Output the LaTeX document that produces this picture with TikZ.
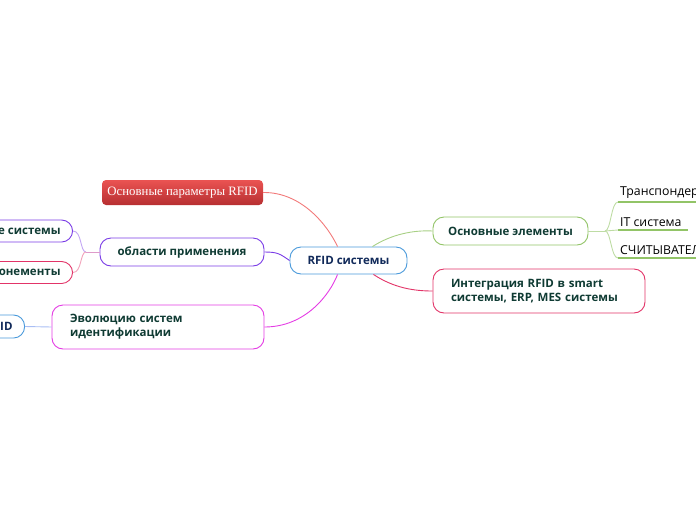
\documentclass[tikz,border=0pt]{standalone}
\usepackage{fontspec}
\setmainfont{Open Sans}
\newfontfamily\paramfont{Liberation Serif}
\usepackage{tikz}
\usetikzlibrary{positioning,calc}
\definecolor{ink}{HTML}{0F3B33}
\definecolor{navy}{HTML}{112A5A}
\definecolor{cblue}{HTML}{4A9ADB}
\definecolor{cpurple}{HTML}{7A3CE6}
\definecolor{cmagenta}{HTML}{E43CE4}
\definecolor{cgreen}{HTML}{92C467}
\definecolor{ccrimson}{HTML}{E23468}
\definecolor{credtop}{HTML}{EA5352}
\definecolor{credbot}{HTML}{B72F31}
\definecolor{cpink}{HTML}{F27A7A}
\definecolor{cskyline}{HTML}{A9BEF4}
\tikzset{
  every node/.style={text=ink, font=\fontsize{11.5}{14}\selectfont\bfseries},
  % one pill style; the argument is the branch colour
  pill/.style={draw=#1, fill=white, rounded corners=11pt, line width=0.9pt,
               inner xsep=12pt, inner ysep=4pt, align=center},
  leaf/.style={font=\fontsize{12.3}{14}\selectfont, text=black, inner xsep=2pt, inner ysep=3pt, anchor=south west},
  conn/.style={line width=0.9pt, color=#1},
  uline/.style={line width=1.6pt, color=cgreen},
}

\begin{document}
\begin{tikzpicture}[x=1pt,y=-1pt]
  \useasboundingbox (0,0) rectangle (696,520);

  % centre
  \node[pill=cblue, text=navy, minimum width=117pt, minimum height=27pt] (rfid) at (348.5,260.5) {RFID системы};

  % left side
  \node[draw=none, rounded corners=4pt, top color=credtop, bottom color=credbot,
        text=white, font=\fontsize{12.8}{14}\selectfont\paramfont,
        minimum width=161pt, minimum height=25pt] (params) at (182.5,192.5) {Основные параметры RFID};
  \node[pill=cpurple, minimum width=164pt, minimum height=28pt] (areas) at (182,252) {области применения};
  \node[pill=cmagenta, minimum width=212pt, minimum height=44pt, text width=176pt, align=left] (evol) at (158,327) {Эволюцию систем\\идентификации};

  \node[pill=cpurple, anchor=east, minimum height=22pt] (syst) at (73,231) {е системы};
  \node[pill=ccrimson, anchor=east, minimum height=22pt] (comp) at (73,272.5) {онементы};
  \node[pill=cblue, text=navy, anchor=east, minimum height=23pt] (idn) at (25,326.5) {ID};

  % right side
  \node[pill=cgreen, minimum width=155pt, minimum height=28pt] (elem) at (510.5,231) {Основные элементы};
  \node[pill=ccrimson, minimum width=212pt, minimum height=44pt, text width=176pt, align=left] (integ) at (539,291) {Интеграция RFID в smart\\системы, ERP, MES системы};

  \node[leaf] (trans) at (618,202) {Транспондер};
  \node[leaf] (itsys) at (618,230) {IT система};
  \node[leaf] (reader) at (618,258) {СЧИТЫВАТЕЛ};

  % connectors
  \draw[conn=cpink] (params.east) .. controls (302,192) and (328,226) .. ($(rfid.north west)+(48,0)$);
  \draw[conn=cpurple] (areas.east) .. controls (278,252) and (280,254) .. (rfid.west);
  \draw[conn=cmagenta] (evol.east) .. controls (306,327) and (330,294) .. ($(rfid.south west)+(48,0)$);
  \draw[conn=cgreen!80] ($(rfid.north east)+(-35,0)$) .. controls (392,234) and (414,230) .. (elem.west);
  \draw[conn=ccrimson] ($(rfid.south east)+(-34,0)$) .. controls (394,288) and (414,291) .. (integ.west);

  \coordinate (lfork) at (86,252);
  \draw[conn=cpurple!45] (syst.east) .. controls (82,231) and (80,252) .. (lfork);
  \draw[conn=ccrimson!45] (comp.east) .. controls (82,272.5) and (80,252) .. (lfork);
  \draw[conn=cpurple!35!ccrimson!50] (lfork) -- (areas.west);
  \draw[conn=cskyline] (idn.east) -- (evol.west);

  \coordinate (rfork) at (605,231);
  \draw[conn=cgreen!60] (elem.east) -- (rfork);
  \draw[conn=cgreen!60] (rfork) .. controls (611,231) and (611,202) .. (trans.south west);
  \draw[conn=cgreen!60] (rfork) -- (itsys.south west);
  \draw[conn=cgreen!60] (rfork) .. controls (611,231) and (611,258) .. (reader.south west);
  \draw[uline] (trans.south west) -- ++(90,0);
  \draw[uline] (itsys.south west) -- ($(itsys.south east)+(4,0)$);
  \draw[uline] (reader.south west) -- ++(90,0);
\end{tikzpicture}
\end{document}
